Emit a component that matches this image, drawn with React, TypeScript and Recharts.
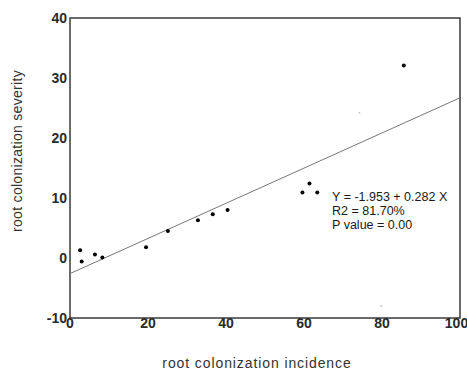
// App.tsx
// Scatter of root colonization severity vs incidence with fitted line.
import {
  ScatterChart, Scatter, XAxis, YAxis, ReferenceArea, ReferenceLine, ReferenceDot, Label,
} from "recharts";

const incidence = [2.6, 3.0, 6.4, 8.3, 19.5, 25.1, 32.8, 36.6, 40.4, 59.6, 61.4, 63.4, 85.6];
const severity = [1.3, -0.6, 0.6, 0.1, 1.8, 4.5, 6.3, 7.3, 8.0, 10.9, 12.4, 10.9, 32.1];

// faint specks visible in the scan
const faintX = [74.2, 79.8];
const faintY = [24.2, -8.0];

const fitX = [0, 100];
const fitY = [-2.6, 26.7];

const xTicks = [0, 20, 40, 60, 80, 100];
const yTicks = [-10, 0, 10, 20, 30, 40];

const statLines = ["Y = -1.953 + 0.282 X", "R2 = 81.70%", "P value = 0.00"];

const points = incidence.map((x, i) => ({ x, y: severity[i] }));
const faint = faintX.map((x, i) => ({ x, y: faintY[i] }));

const FONT = "'Liberation Sans', Arial, sans-serif";
const TICK = { fontSize: 14, fontWeight: 700, fill: "#2a2a2a", fontFamily: FONT };

function StatsLabel({ viewBox }: any) {
  const { x, y } = viewBox;
  return (
    <text x={x} y={y} fontSize={12.5} fill="#1a1a1a" fontFamily={FONT}>
      {statLines.map((t, i) => (
        <tspan key={i} x={x} dy={i === 0 ? 9 : 14}>{t}</tspan>
      ))}
    </text>
  );
}

function XTitle({ value }: any) {
  return (
    <text x={257} y={368} textAnchor="middle" fontSize={14} letterSpacing={0.9} fill="#333" fontFamily={FONT}>
      {value}
    </text>
  );
}

function YTitle({ value }: any) {
  return (
    <text x={22} y={151} transform="rotate(-90 22 151)" textAnchor="middle" fontSize={14} letterSpacing={0.3} fill="#333" fontFamily={FONT}>
      {value}
    </text>
  );
}

export default function App() {
  return (
    <div style={{ position: "absolute", left: 0, top: 0, background: "#fff" }}>
      <ScatterChart width={467} height={370} margin={{ top: 18, right: 7, bottom: 32, left: 0 }}>
        <XAxis
          type="number" dataKey="x" domain={[0, 100]} ticks={xTicks}
          axisLine={false} tickLine={false} tickSize={0} tickMargin={0}
          tick={TICK} height={20} allowDataOverflow
        >
          <Label value="root colonization incidence" content={<XTitle />} />
        </XAxis>
        <YAxis
          type="number" dataKey="y" domain={[-10, 40]} ticks={yTicks}
          axisLine={false} tickLine={false} tickSize={0} tickMargin={3}
          tick={TICK} width={70} allowDataOverflow
        >
          <Label value="root colonization severity" content={<YTitle />} />
        </YAxis>
        <ReferenceArea
          x1={0} x2={100} y1={-10} y2={40}
          fill="none" stroke="#3a3a3a" strokeWidth={1.5} ifOverflow="visible"
        />
        <ReferenceLine
          segment={[{ x: fitX[0], y: fitY[0] }, { x: fitX[1], y: fitY[1] }]}
          stroke="#777" strokeWidth={1} ifOverflow="visible"
        />
        <Scatter data={faint} fill="#c8c8c8" shape={(p: any) => <circle cx={p.cx} cy={p.cy} r={1} fill="#c8c8c8" />} isAnimationActive={false} />
        <Scatter data={points} fill="#000" shape={(p: any) => <circle cx={p.cx} cy={p.cy} r={2} fill="#000" />} isAnimationActive={false} />
        <ReferenceDot x={67.2} y={11} r={0} ifOverflow="visible" label={<StatsLabel />} />
      </ScatterChart>
    </div>
  );
}
